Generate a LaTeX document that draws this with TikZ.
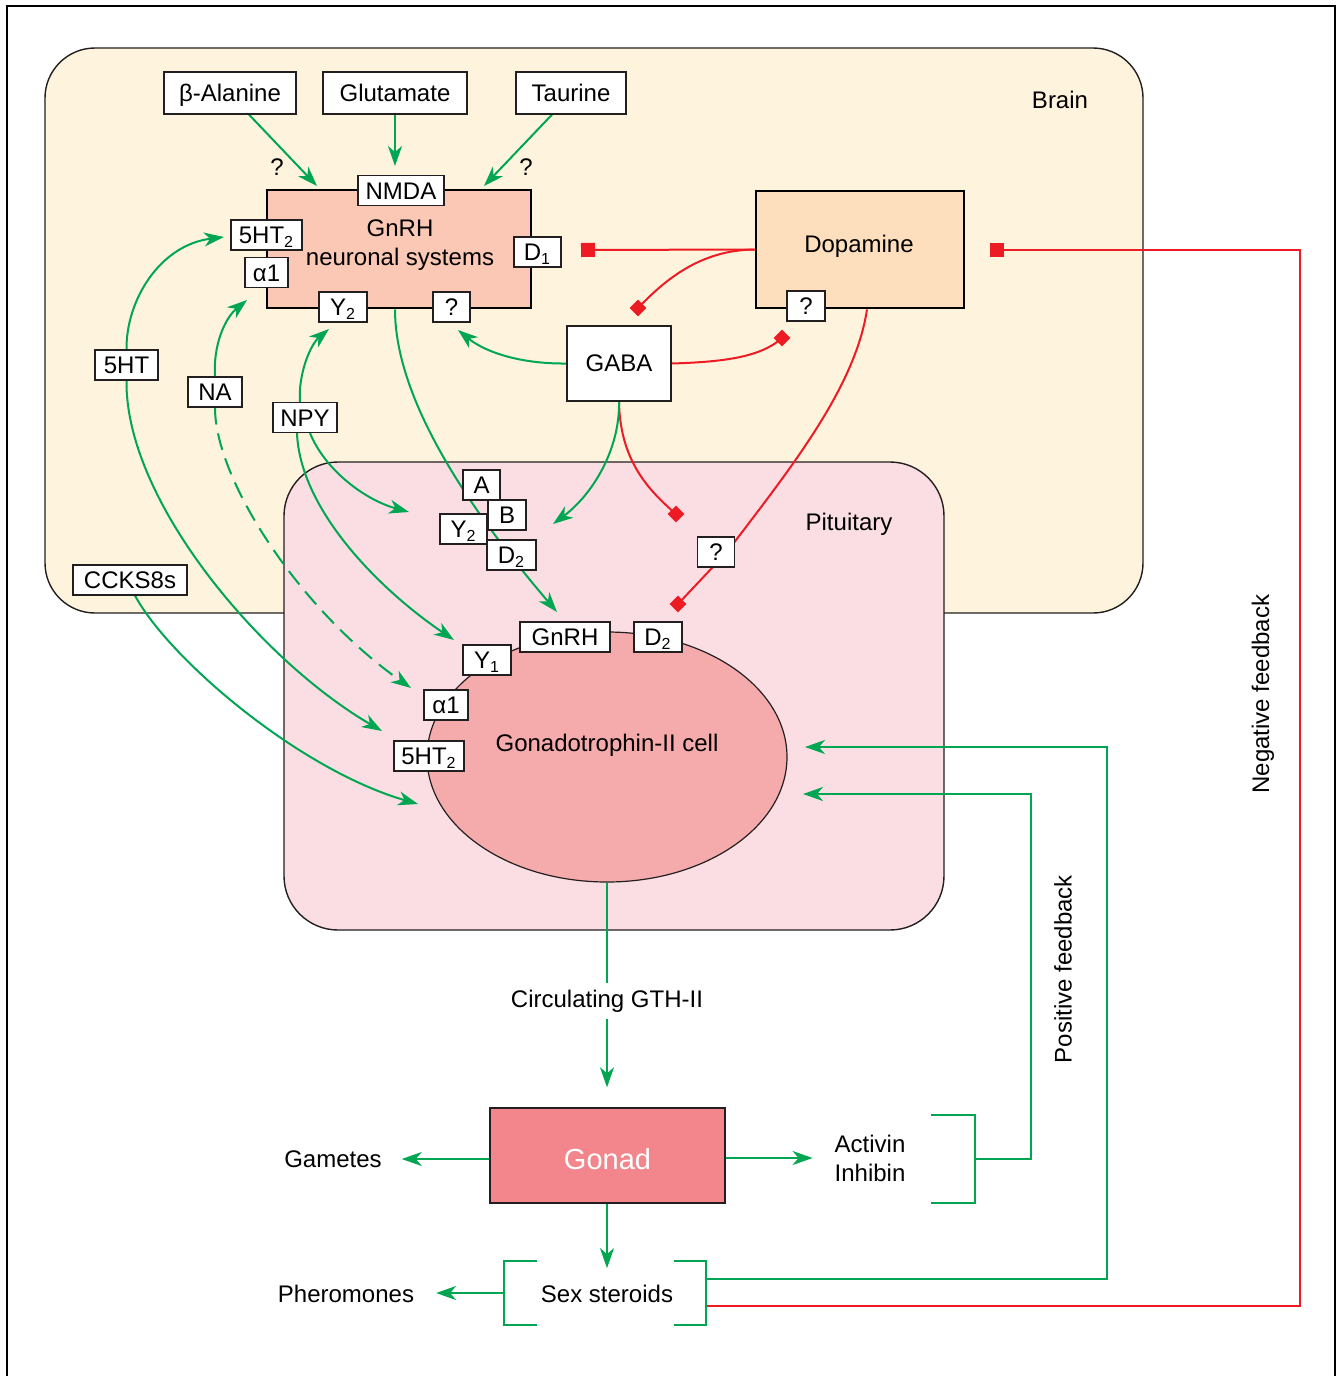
\documentclass[tikz,border=0pt]{standalone}
\usepackage{fontspec}
\setmainfont{Liberation Sans}
\usetikzlibrary{arrows.meta,calc,shapes.geometric}
\pgfdeclarelayer{bg}
\pgfdeclarelayer{lines}
\pgfsetlayers{bg,lines,main}
\definecolor{brainc}{RGB}{254,243,220}
\definecolor{pitc}{RGB}{250,222,227}
\definecolor{gnrhc}{RGB}{250,200,180}
\definecolor{dopac}{RGB}{253,223,190}
\definecolor{cellc}{RGB}{245,170,172}
\definecolor{gonadc}{RGB}{242,134,140}
\definecolor{gr}{RGB}{0,166,81}
\definecolor{rd}{RGB}{237,28,36}
\definecolor{edge}{RGB}{35,31,32}
\tikzset{
  lbl/.style={draw=edge, fill=white, line width=0.6pt, minimum height=15pt, inner xsep=2pt, inner ysep=0pt, text height=8.6pt, text depth=0pt},
  topbox/.style={draw=edge, fill=white, line width=0.6pt, minimum height=21pt, inner sep=0pt, text height=8.6pt, text depth=0pt},
  txt/.style={inner sep=0pt},
  gline/.style={draw=gr, line width=1pt},
  garr/.style={draw=gr, line width=1pt, -{Stealth[length=10pt,width=7pt,inset=3pt]}},
  rline/.style={draw=rd, line width=1pt},
  rsq/.style={draw=rd, line width=1pt, -{Square[length=7pt,width=7pt]}},
  rdm/.style={diamond, fill=rd, inner sep=0pt, minimum size=8.5pt}
}
\begin{document}
\begin{tikzpicture}[x=0.5pt,y=-0.5pt, every node/.style={font=\fontsize{12}{14.5}\selectfont}]
\useasboundingbox (0,0) rectangle (1337,1376);
\draw[line width=0.6pt] (7,1376) -- (7,6) -- (1335,6) -- (1335,1376);

% regions
\begin{pgfonlayer}{bg}
\node[draw=edge, line width=0.7pt, fill=brainc, rounded corners=25pt, minimum width=549pt, minimum height=282.5pt, inner sep=0pt] (brain) at (594,330.5) {};
\node[draw=edge, line width=0.7pt, fill=pitc, rounded corners=27pt, minimum width=330pt, minimum height=234pt, inner sep=0pt] (pit) at (614,696) {};
\node[draw=edge, line width=0.6pt, fill=cellc, ellipse, minimum width=180pt, minimum height=125pt, inner sep=0pt] (cell) at (607,757) {};
\end{pgfonlayer}

% brain nodes
\node[txt] (brainlbl) at (1060,100) {Brain};
\node[txt] (pitlbl) at (849,524) {Pituitary};
\node[topbox, minimum width=66pt] (bala) at (230,93) {β-Alanine};
\node[topbox, minimum width=72pt] (glu) at (395,93) {Glutamate};
\node[topbox, minimum width=55pt] (tau) at (571,93) {Taurine};
\node[txt] (q1) at (277,167) {?};
\node[txt] (q2) at (526,167) {?};

\node[draw=black, line width=1.4pt, fill=gnrhc, minimum width=132pt, minimum height=59pt, inner sep=0pt] (gnrh) at (399,249) {};
\node[txt, align=center] (gnrhtxt) at (400,245) {GnRH\\neuronal systems};
\node[lbl, minimum width=43pt] (nmda) at (401,190.5) {NMDA};
\node[lbl, minimum width=35.5pt] (hta) at (266.5,235) {5HT\textsubscript{2}};
\node[lbl, minimum width=21.5pt] (a1a) at (266.5,272.5) {α1};
\node[lbl, minimum width=23.5pt] (d1) at (537.5,252) {D\textsubscript{1}};
\node[lbl, minimum width=24pt] (y2a) at (343,307) {Y\textsubscript{2}};
\node[lbl, minimum width=18.5pt] (qa) at (451.5,307) {?};

\node[draw=black, line width=1.4pt, fill=dopac, minimum width=104pt, minimum height=58.5pt, inner sep=0pt] (dopa) at (860,249.5) {};
\node[txt] (dopatxt) at (859,246) {Dopamine};
\node[lbl, minimum width=19pt] (dq) at (806,306) {?};
\node[draw=edge, line width=0.7pt, fill=white, minimum width=52pt, minimum height=37.5pt, inner sep=0pt] (gaba) at (619,363.5) {GABA};

\node[lbl, minimum width=31.5pt] (ht) at (126.5,365) {5HT};
\node[lbl, minimum width=27pt] (na) at (215,392) {NA};
\node[lbl, minimum width=32pt] (npy) at (305,417.5) {NPY};
\node[lbl, minimum width=57pt] (cck) at (130,580) {CCKS8s};

% red diamonds
\node[rdm] (dm1) at (638,308) {};
\node[rdm] (dm2) at (782,338) {};
\node[rdm] (dm3) at (676,514) {};
\node[rdm] (dm4) at (678,604) {};

% pituitary labels
\node[lbl, minimum width=18.5pt] (pa) at (481.5,485) {A};
\node[lbl, minimum width=19pt] (pb) at (507,515) {B};
\node[lbl, minimum width=23.5pt] (py2) at (463.5,529) {Y\textsubscript{2}};
\node[lbl, minimum width=24.5pt] (pd2) at (511.5,555) {D\textsubscript{2}};
\node[lbl, minimum width=18.5pt] (dq2) at (716,552) {?};

\node[txt] (celltxt) at (607,745) {Gonadotrophin-II cell};
\node[lbl, minimum width=45pt] (cg) at (565,637) {GnRH};
\node[lbl, minimum width=24pt] (cd2) at (658,637) {D\textsubscript{2}};
\node[lbl, minimum width=24pt] (cy1) at (487,660) {Y\textsubscript{1}};
\node[lbl, minimum width=22pt] (ca1) at (446,705) {α1};
\node[lbl, minimum width=35pt] (cht) at (429,756) {5HT\textsubscript{2}};

% bottom
\node (gth) at (607,1001) {Circulating GTH-II};
\node[draw=edge, line width=0.7pt, fill=gonadc, minimum width=117.5pt, minimum height=47.5pt, inner sep=0pt, text=white, text height=13.5pt, text depth=0pt, font=\fontsize{14.5}{17}\selectfont] (gonad) at (607.5,1155.5) {Gonad};
\node (gam) at (333,1159) {Gametes};
\node[align=center] (act) at (870,1158) {Activin\\Inhibin};
\node (sex) at (607,1294) {Sex steroids};
\node (pher) at (346,1294) {Pheromones};
\node[rotate=90] (negfb) at (1263,694) {Negative feedback};
\node[rotate=90] (posfb) at (1063,969) {Positive feedback};

% free coordinates
\coordinate (t-bala) at (317,186);
\coordinate (t-glu) at (395,166);
\coordinate (t-tau) at (484,186);
\coordinate (t-d1) at (581,250);
\coordinate (t-neg) at (990,250);
\coordinate (t-gq) at (458,330);
\coordinate (t-gp) at (553,524);
\coordinate (t-gnrhp) at (557,612);
\coordinate (t-5a) at (224,237);
\coordinate (t-5b) at (382,731);
\coordinate (t-na1) at (247,300);
\coordinate (t-na2) at (411,688);
\coordinate (t-npy1) at (329,329);
\coordinate (t-npy2) at (454,640);
\coordinate (t-npy3) at (409,512);
\coordinate (t-cck) at (418,804);
\coordinate (t-fb1) at (805,747);
\coordinate (t-fb2) at (803,794);
\coordinate (sb-l1) at (537,1261);
\coordinate (sb-l2) at (504,1261);
\coordinate (sb-l3) at (504,1325);
\coordinate (sb-l4) at (537,1325);
\coordinate (sb-lm) at (504,1293);
\coordinate (sb-r1) at (674,1261);
\coordinate (sb-r2) at (706,1261);
\coordinate (sb-r3) at (706,1325);
\coordinate (sb-r4) at (674,1325);
\coordinate (sb-rg) at (706,1279);
\coordinate (sb-rr) at (706,1306);
\coordinate (ab-1) at (931,1115);
\coordinate (ab-2) at (975,1115);
\coordinate (ab-3) at (975,1203);
\coordinate (ab-4) at (931,1203);
\coordinate (ab-m) at (975,1159);

\begin{pgfonlayer}{lines}
% inputs to GnRH neurons
\draw[garr] ($(bala.south)+(19,0)$) -- (t-bala);
\draw[garr] (glu.south) -- (t-glu);
\draw[garr] ($(tau.south)+(-19,0)$) -- (t-tau);
% dopamine / GABA red
\draw[rsq] (dopa.west) -- (t-d1);
\draw[rline] (dopa.west) .. controls (700,250) and (665,280) .. (dm1.center);
\draw[rline] (gaba.east) .. controls (720,362) and (760,358) .. (dm2.center);
\draw[rline] ($(dopa.south)+(7,0)$) .. controls (855,390) and (785,475) .. ($(dq2.center)+(11,0)$) -- (dm4.center);
\draw[rline] (gaba.south) .. controls (620,460) and (648,490) .. (dm3.center);
\draw[rsq] (sb-rr) -- (1300,1306) -- (1300,250) -- (t-neg);
% GABA green
\draw[garr] (gaba.west) .. controls (520,364) and (485,352) .. (t-gq);
\draw[garr] (gaba.south) .. controls (620,450) and (592,495) .. (t-gp);
\draw[garr] ($(gnrh.south)+(-4,0)$) .. controls (395,400) and (470,510) .. (t-gnrhp);
% 5HT, NA, NPY, CCK
\draw[garr] (ht.north) .. controls (126,300) and (160,245) .. (t-5a);
\draw[garr] (ht.south) .. controls (125,500) and (260,660) .. (t-5b);
\draw[garr] (na.north) .. controls (213,345) and (225,318) .. (t-na1);
\draw[garr, dash pattern=on 8.5pt off 4.5pt] (na.south) .. controls (215,480) and (300,610) .. (t-na2);
\draw[garr] ($(npy.north)+(-5,0)$) .. controls (298,375) and (310,345) .. (t-npy1);
\draw[garr] ($(npy.south)+(-8,0)$) .. controls (300,510) and (380,590) .. (t-npy2);
\draw[garr] ($(npy.south)+(5,0)$) .. controls (325,470) and (365,500) .. (t-npy3);
\draw[garr] ($(cck.south)+(5,0)$) .. controls (170,660) and (300,770) .. (t-cck);
% cell to gonad
\draw[gline] (cell.south) -- (gth.north);
\draw[garr, shorten >=10pt] (gth.south) -- (gth.south |- gonad.north);
\draw[garr, shorten >=6.5pt] (gam.east -| gonad.west) -- (gam.east);
\draw[garr, shorten >=7.5pt] (act.west -| gonad.east) -- (act.west);
\draw[garr, shorten >=5pt] (sex.north |- gonad.south) -- (sex.north);
\draw[garr, shorten >=7.5pt] (sb-lm) -- (sb-lm -| pher.east);
% brackets
\draw[gline] (sb-l1) -- (sb-l2) -- (sb-l3) -- (sb-l4);
\draw[gline] (sb-r1) -- (sb-r2) -- (sb-r3) -- (sb-r4);
\draw[gline] (ab-1) -- (ab-2) -- (ab-3) -- (ab-4);
% positive feedback
\draw[garr] (sb-rg) -- (1107,1279) -- (1107,747) -- (t-fb1);
\draw[garr] (ab-m) -- (1031,1159) -- (1031,794) -- (t-fb2);
\end{pgfonlayer}
\end{tikzpicture}
\end{document}
